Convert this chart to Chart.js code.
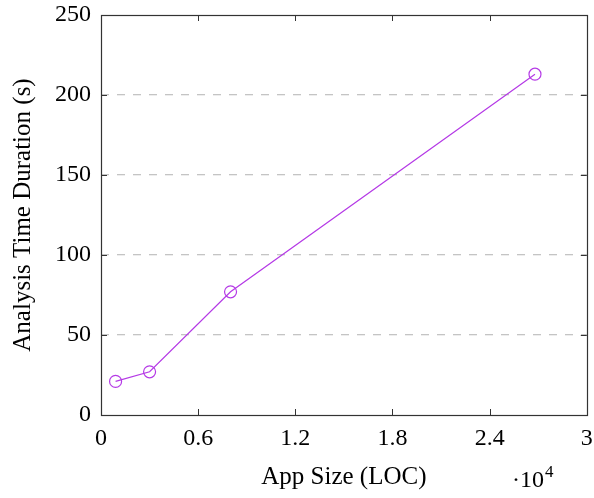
<!DOCTYPE html>
<html>
<head>
<meta charset="utf-8">
<script src="https://cdn.jsdelivr.net/npm/chart.js@4"></script>
<style>
html,body{margin:0;padding:0;background:#fff;}
#wrap{width:594px;height:498px;}
</style>
</head>
<body>
<div id="wrap"><canvas id="c" width="594" height="498"></canvas></div>
<script>
const appSizes = [900, 3000, 8000, 26800];
const durations = [21, 27, 77, 213];
const xTicks = [0, 6000, 12000, 18000, 24000, 30000];
const yTicks = [0, 50, 100, 150, 200, 250];
const xLabel = 'App Size (LOC)';
const yLabel = 'Analysis Time Duration (s)';

const FONT = "'Liberation Serif', 'DejaVu Serif', serif";
const LINE = '#b53be6';

const boxPlugin = {
  id: 'box',
  afterDatasetsDraw(chart) {
    const {ctx, chartArea: a, scales: {x, y}} = chart;
    ctx.save();
    ctx.strokeStyle = '#333';
    ctx.lineWidth = 1;
    ctx.beginPath();
    xTicks.forEach(v => {
      const px = Math.round(x.getPixelForValue(v)) + 0.5;
      ctx.moveTo(px, a.bottom); ctx.lineTo(px, a.bottom - 6);
      ctx.moveTo(px, a.top); ctx.lineTo(px, a.top + 6);
    });
    yTicks.forEach(v => {
      const py = Math.round(y.getPixelForValue(v)) + 0.5;
      ctx.moveTo(a.left, py); ctx.lineTo(a.left + 6, py);
      ctx.moveTo(a.right, py); ctx.lineTo(a.right - 6, py);
    });
    ctx.stroke();
    ctx.lineWidth = 1.2;
    ctx.strokeRect(Math.round(a.left) + 0.5, Math.round(a.top) + 0.5, Math.round(a.right - a.left), Math.round(a.bottom - a.top));
    ctx.fillStyle = '#000';
    ctx.textBaseline = 'alphabetic';
    ctx.textAlign = 'left';
    ctx.font = '24px ' + FONT;
    const base = 487;
    ctx.fillText('·10', 512, base);
    const w = ctx.measureText('·10').width;
    ctx.font = '17px ' + FONT;
    ctx.fillText('4', 512 + w + 1, base - 10);
    ctx.restore();
  }
};

new Chart(document.getElementById('c'), {
  type: 'scatter',
  data: {
    datasets: [{
      data: appSizes.map((v, i) => ({x: v, y: durations[i]})),
      showLine: true,
      borderColor: LINE,
      backgroundColor: 'rgba(0,0,0,0)',
      borderWidth: 1.2,
      pointRadius: 6,
      pointBorderWidth: 1.2,
      pointBorderColor: LINE,
      pointBackgroundColor: 'rgba(0,0,0,0)',
      tension: 0
    }]
  },
  options: {
    responsive: false,
    animation: false,
    events: [],
    layout: {padding: {top: 15, right: 7, left: 0, bottom: 0}},
    plugins: {legend: {display: false}, tooltip: {enabled: false}},
    scales: {
      x: {
        type: 'linear', min: 0, max: 30000,
        afterBuildTicks: s => { s.ticks = xTicks.map(v => ({value: v})); },
        afterFit: s => { s.height = 83; s.paddingLeft = 0; s.paddingRight = 0; },
        grid: {display: false, drawTicks: false},
        border: {display: false},
        ticks: {
          color: '#000', padding: 9, maxRotation: 0,
          font: {family: FONT, size: 24},
          callback: v => String(+(v / 10000).toFixed(1))
        },
        title: {display: true, text: xLabel, color: '#000', font: {family: FONT, size: 25}, padding: {top: 2, bottom: 6}}
      },
      y: {
        type: 'linear', min: 0, max: 250,
        afterBuildTicks: s => { s.ticks = yTicks.map(v => ({value: v})); },
        afterFit: s => { s.width = 101; s.paddingTop = 0; s.paddingBottom = 0; },
        grid: {
          drawTicks: false,
          color: ctx => (ctx.tick && (ctx.tick.value === 0 || ctx.tick.value === 250)) ? 'rgba(0,0,0,0)' : '#c4c4c4',
          lineWidth: 1.3
        },
        border: {display: false, dash: [8, 8]},
        ticks: {color: '#000', padding: 10, font: {family: FONT, size: 24}},
        title: {display: true, text: yLabel, color: '#000', font: {family: FONT, size: 25}, padding: {top: 8, bottom: 0}}
      }
    }
  },
  plugins: [boxPlugin]
});
</script>
</body>
</html>
